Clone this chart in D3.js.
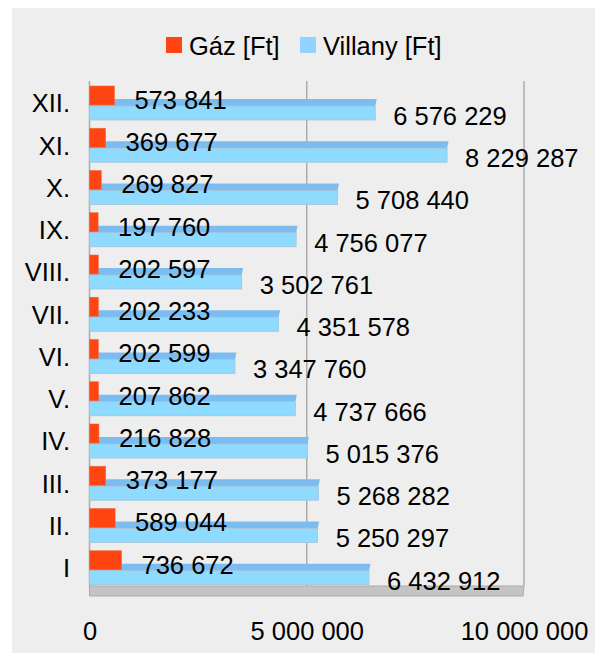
<!DOCTYPE html>
<html>
<head>
<meta charset="utf-8">
<script src="https://cdn.jsdelivr.net/npm/d3@7"></script>
<style>
  body { margin: 0; background: #fff; }
  svg { display: block; font-family: "Liberation Sans", Arial, sans-serif; }
</style>
</head>
<body>
<svg width="595" height="653"></svg>
<script>
// hónapok (alulról felfelé)
const honapok = ["I", "II.", "III.", "IV.", "V.", "VI.", "VII.", "VIII.", "IX.", "X.", "XI.", "XII."];
const gaz = [736672, 589044, 373177, 216828, 207862, 202599, 202233, 202597, 197760, 269827, 369677, 573841];
const villany = [6432912, 5250297, 5268282, 5015376, 4737666, 3347760, 4351578, 3502761, 4756077, 5708440, 8229287, 6576229];
const tickek = [0, 5000000, 10000000];
const sorozatok = ["Gáz [Ft]", "Villany [Ft]"];

const rows = honapok.map((h, i) => ({ honap: h, gaz: gaz[i], villany: villany[i] }));

const fmt = v => d3.format(",")(v).replace(/,/g, " ");

const svg = d3.select("svg");

// háttér
svg.append("rect")
  .attr("x", 12).attr("y", 8)
  .attr("width", 583).attr("height", 645)
  .attr("fill", "#eeeeee");

const x = d3.scaleLinear().domain([0, 10000000]).range([89.5, 524]);
const y = d3.scaleBand()
  .domain(honapok.slice().reverse())
  .range([79, 586]);

const floorTop = 586;

// padló
svg.append("path")
  .attr("d", `M${x(0)},${floorTop} L${x(1e7)},${floorTop} L${x(1e7) - 1},${floorTop + 10} L${x(0)},${floorTop + 10} Z`)
  .attr("fill", "#c4c4c4")
  .attr("stroke", "#ababab")
  .attr("stroke-width", 1);

// rácsvonalak
svg.append("g")
  .selectAll("line")
  .data(tickek)
  .join("line")
  .attr("x1", d => x(d)).attr("x2", d => x(d))
  .attr("y1", 81).attr("y2", floorTop)
  .attr("stroke", "#acacac")
  .attr("stroke-width", 1.5);

// villany oszlopok (3D hatás: felső lap + előlap)
const bars = svg.append("g");
bars.selectAll(".vtop")
  .data(rows)
  .join("path")
  .attr("class", "vtop")
  .attr("d", d => {
    const t = y(d.honap);
    const x0 = x(0), x1 = x(d.villany);
    return `M${x0},${t + 27} L${x1},${t + 27} L${x1 + 1.5},${t + 20} L${x0 + 1.5},${t + 20} Z`;
  })
  .attr("fill", "#7bbdf0");

bars.selectAll(".vfront")
  .data(rows)
  .join("rect")
  .attr("class", "vfront")
  .attr("x", x(0))
  .attr("y", d => y(d.honap) + 27)
  .attr("width", d => x(d.villany) - x(0))
  .attr("height", 14)
  .attr("fill", "#8fdbff")
  .attr("stroke", "#a3c3d6")
  .attr("stroke-width", 0.8);

// gáz oszlopok
bars.selectAll(".gaz")
  .data(rows)
  .join("rect")
  .attr("class", "gaz")
  .attr("x", x(0))
  .attr("y", d => y(d.honap) + 7)
  .attr("width", d => x(d.gaz) - x(0))
  .attr("height", 19)
  .attr("fill", "#ff4511")
  .attr("stroke", "#f06a40")
  .attr("stroke-width", 0.6);

// adatfeliratok
const labels = svg.append("g").attr("font-size", 25.5).attr("fill", "#000");
labels.selectAll(".lg")
  .data(rows)
  .join("text")
  .attr("class", "lg")
  .attr("x", d => x(d.gaz) + 20)
  .attr("y", d => y(d.honap) + 21)
  .attr("dy", "0.35em")
  .text(d => fmt(d.gaz));

labels.selectAll(".lv")
  .data(rows)
  .join("text")
  .attr("class", "lv")
  .attr("x", d => x(d.villany) + 18)
  .attr("y", d => y(d.honap) + 37)
  .attr("dy", "0.35em")
  .text(d => fmt(d.villany));

// kategória tengely
const yAxis = svg.append("g")
  .attr("transform", "translate(70,4)")
  .call(d3.axisLeft(y).tickSize(0).tickPadding(0));
yAxis.select(".domain").remove();
yAxis.selectAll("text")
  .attr("font-size", 25.5)
  .attr("font-family", "Liberation Sans, Arial, sans-serif")
  .attr("fill", "#000");

// érték tengely
const xAxis = svg.append("g")
  .attr("transform", "translate(0,622)")
  .call(d3.axisBottom(x).tickValues(tickek).tickSize(0).tickPadding(0).tickFormat(fmt));
xAxis.select(".domain").remove();
xAxis.selectAll("text")
  .attr("font-size", 25.5)
  .attr("font-family", "Liberation Sans, Arial, sans-serif")
  .attr("fill", "#000");

// jelmagyarázat
const legend = svg.append("g");
const legendX = [166, 300];
const colors = ["#ff4511", "#8fd3ff"];
sorozatok.forEach((s, i) => {
  legend.append("rect")
    .attr("x", legendX[i]).attr("y", 37)
    .attr("width", 16).attr("height", 16)
    .attr("fill", colors[i]);
  legend.append("text")
    .attr("x", legendX[i] + 23).attr("y", 46)
    .attr("dy", "0.35em")
    .attr("font-size", 25.5)
    .text(s);
});
</script>
</body>
</html>
